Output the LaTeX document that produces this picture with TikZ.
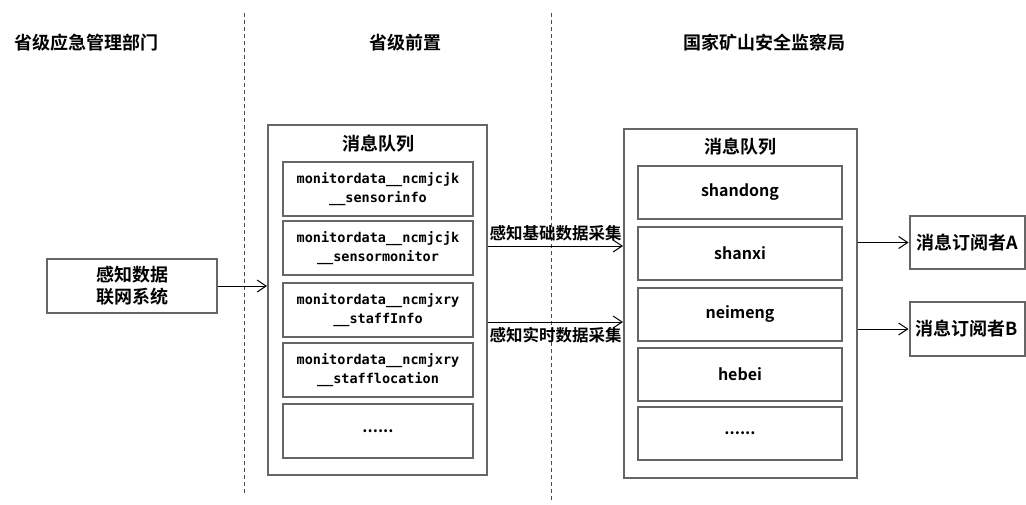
\documentclass[tikz,border=0pt]{standalone}
\usepackage{fontspec}
\setmainfont{Noto Sans CJK SC}[BoldFont={Noto Sans CJK SC Bold}]
\setmonofont{DejaVu Sans Mono}[BoldFont={DejaVu Sans Mono Bold}]
\usepackage{tikz}
\usetikzlibrary{arrows.meta,positioning}

\begin{document}
\begin{tikzpicture}
[x=1pt,y=-1pt,
 >={Straight Barb[length=9pt,width=12pt]},
 box/.style={rectangle,draw=black!60,line width=2pt,inner sep=0pt,align=center,font=\bfseries\fontsize{18}{22}\selectfont},
 topic/.style={box,minimum width=190pt,minimum height=54pt,font=\ttfamily\bfseries\fontsize{13.5}{19}\selectfont},
 prov/.style={box,minimum width=204pt,minimum height=53pt,font=\bfseries\fontsize{16}{19}\selectfont},
 head/.style={font=\bfseries\fontsize{18}{22}\selectfont},
 conn/.style={->,line width=1pt},
 divider/.style={draw=black!70,line width=1pt,dash pattern=on 4pt off 3pt}]
\useasboundingbox (0,0) rectangle (1026,504);

% column headers
\node[head] (h1) at (87,43) {省级应急管理部门};
\node[head] (h2) at (405,43) {省级前置};
\node[head] (h3) at (764,43) {国家矿山安全监察局};

\draw[divider] (244,13) -- (244,495);
\draw[divider] (551,13) -- (551,502);

% provincial side
\node[box,minimum width=170pt,minimum height=54pt] (sys) at (132,286) {感知数据\\联网系统};

\node[box,minimum width=219pt,minimum height=350pt] (mq) at (377.5,300) {};
\node[head] (mqt) at (378,144) {消息队列};
\node[topic] (t1) at (378,189) {monitordata\_\_ncmjcjk\\\_\_sensorinfo};
\node[topic] (t2) at (378,248) {monitordata\_\_ncmjcjk\\\_\_sensormonitor};
\node[topic] (t3) at (378,310) {monitordata\_\_ncmjxry\\\_\_staffInfo};
\node[topic] (t4) at (378,370) {monitordata\_\_ncmjxry\\\_\_stafflocation};
\node[topic,font=\bfseries\fontsize{16}{19}\selectfont] (t5) at (378,431) {......};

% national side
\node[box,minimum width=233pt,minimum height=349pt] (nq) at (740.5,303.5) {};
\node[head] (nqt) at (740,147) {消息队列};
\node[prov] (p1) at (740,192.5) {shandong};
\node[prov] (p2) at (740,253.5) {shanxi};
\node[prov] (p3) at (740,314) {neimeng};
\node[prov] (p4) at (740,374) {hebei};
\node[prov] (p5) at (740,433) {......};

\node[box,minimum width=115pt,minimum height=53pt] (subA) at (967,242.5) {消息订阅者A};
\node[box,minimum width=115pt,minimum height=54pt] (subB) at (967,329) {消息订阅者B};

% connectors
\coordinate (up) at (0,246);
\coordinate (lo) at (0,322);
\draw[conn] (sys.east) -- (mq.west |- sys.east);
\draw[conn] (mq.east |- up) -- node[above=1pt,font=\bfseries\fontsize{16.5}{20}\selectfont] {感知基础数据采集} (nq.west |- up);
\draw[conn] (mq.east |- lo) -- node[below=1pt,font=\bfseries\fontsize{16.5}{20}\selectfont] {感知实时数据采集} (nq.west |- lo);
\draw[conn] (nq.east |- subA.west) -- (subA.west);
\draw[conn] (nq.east |- subB.west) -- (subB.west);
\end{tikzpicture}
\end{document}
